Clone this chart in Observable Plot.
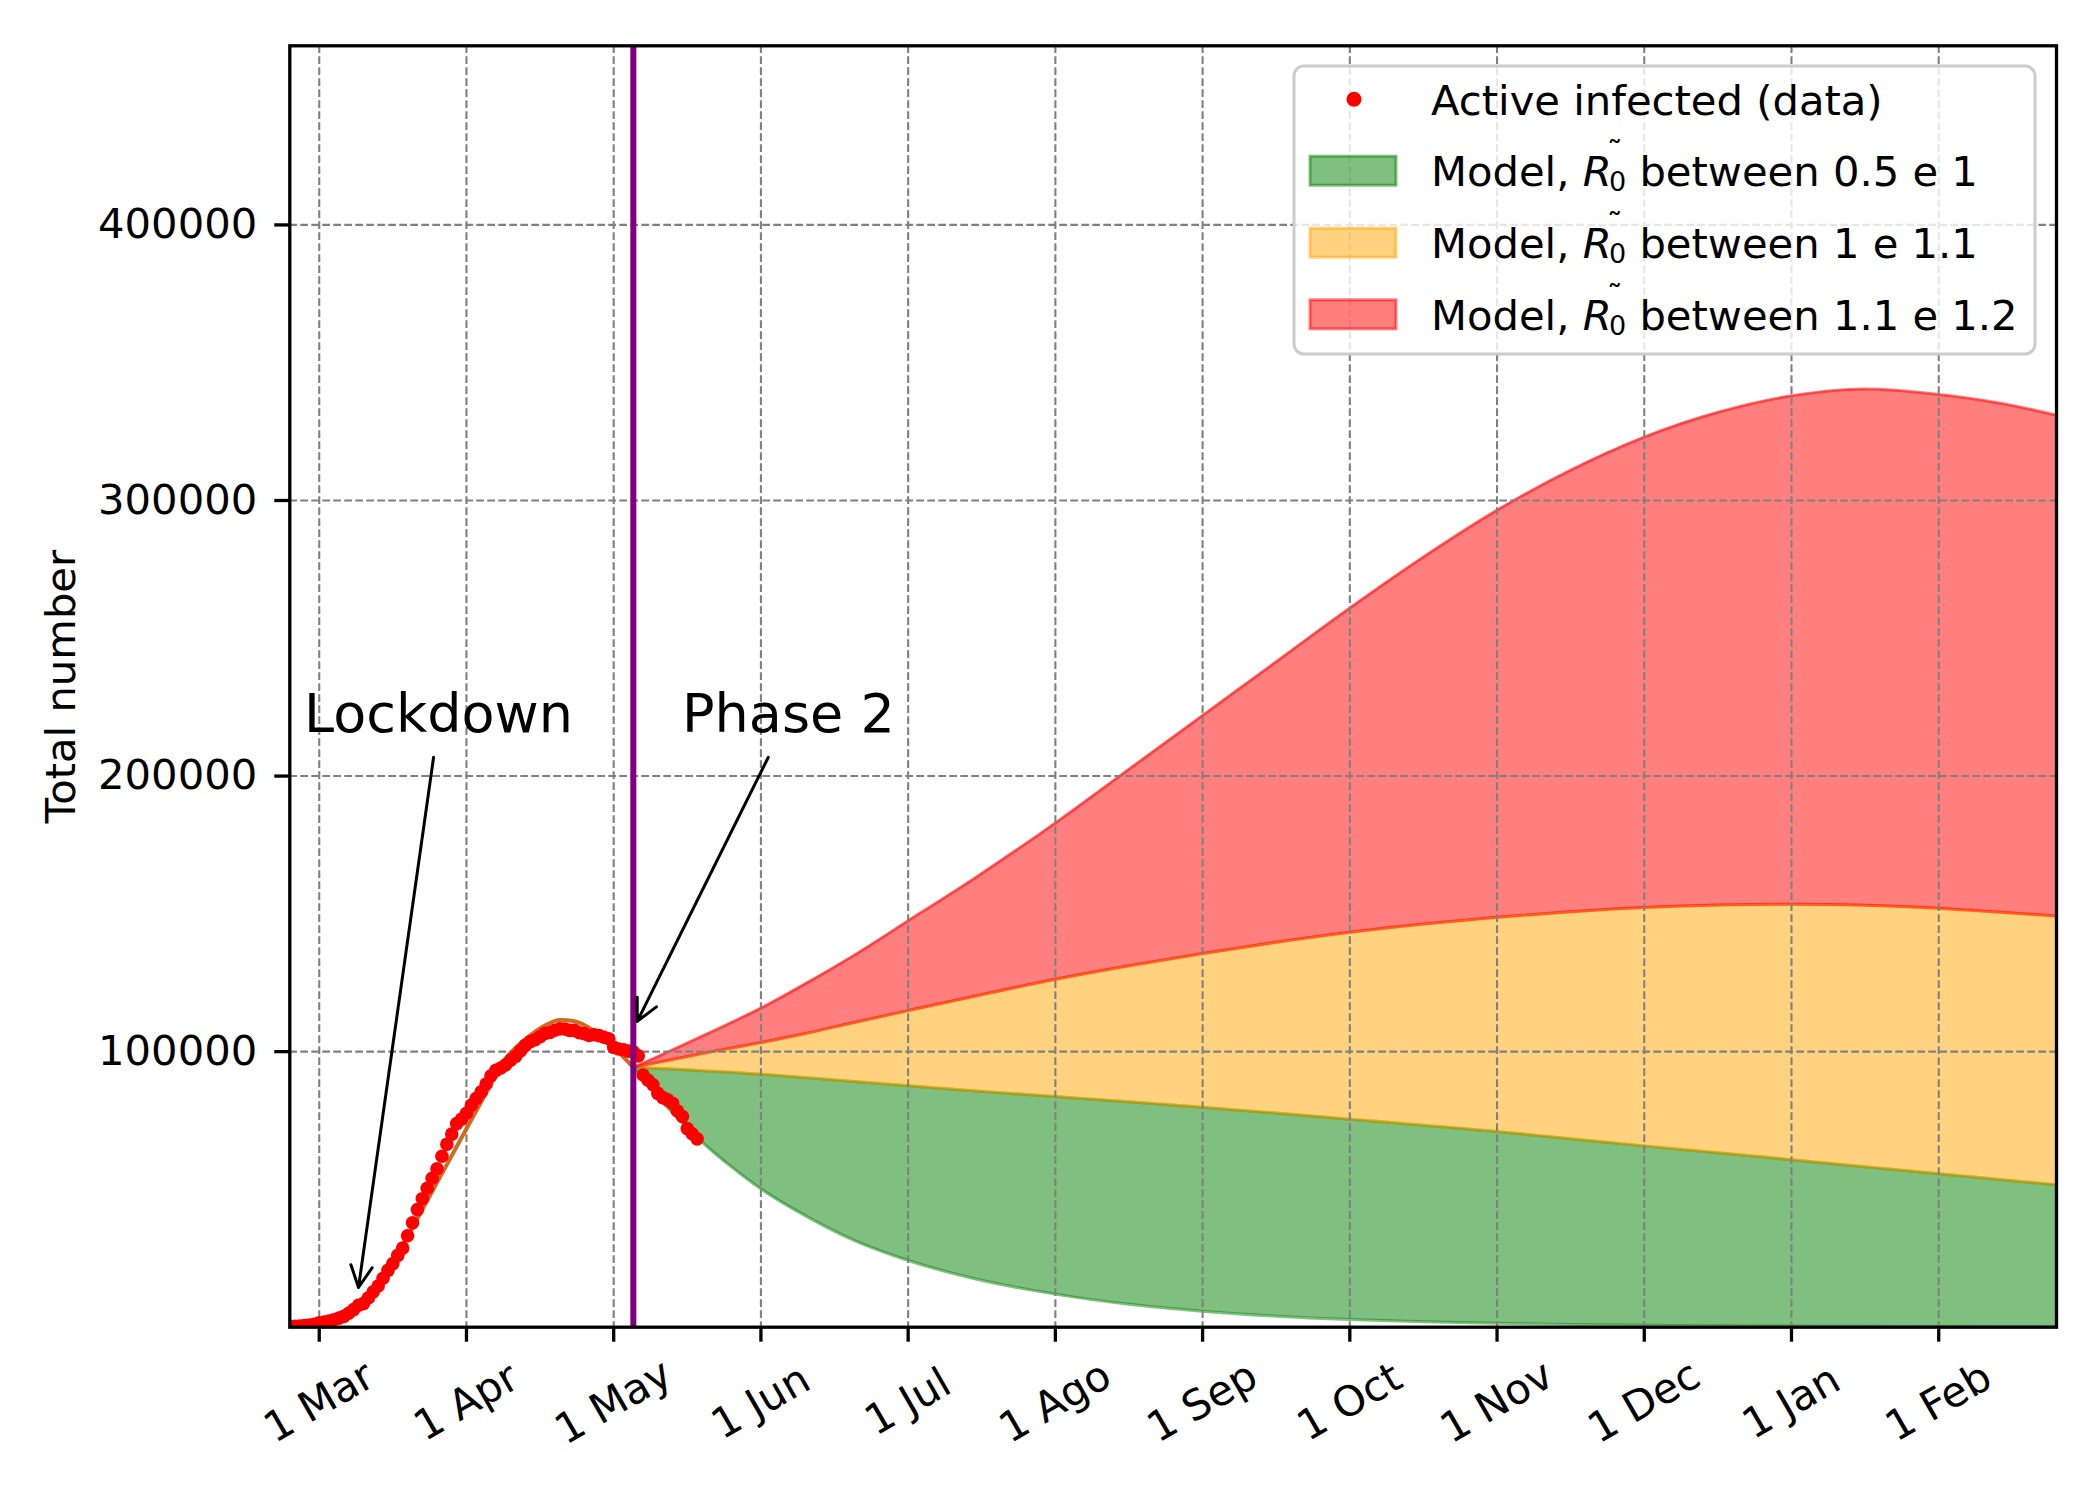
<!DOCTYPE html>
<html><head><meta charset="utf-8">
<script src="https://cdn.jsdelivr.net/npm/d3@7"></script>
<script src="https://cdn.jsdelivr.net/npm/@observablehq/plot@0.6"></script>
<style>
html,body{margin:0;padding:0;background:#fff;}
#wrap{position:relative;width:2100px;height:1500px;font-family:"DejaVu Sans",sans-serif;}
#legend{position:absolute;left:0;top:0;pointer-events:none;}
</style></head><body><div id="wrap"></div>
<script>
// ---- data (x = days since 24 Feb 2020) ----
const activeStartDay = 0;
const activeInfected = [221,311,385,588,821,1049,1577,1835,2263,2706,
 3296,3916,5061,6387,7985,8514,10590,12839,14955,17750,
 20603,23073,26062,28710,33190,37860,42681,46638,50418,54030,
 57521,62013,66414,70065,73880,75528,77635,80572,83049,85388,
 88274,91246,93187,94067,95262,96877,98273,100269,102253,103616,
 104291,105418,106607,106962,107771,108257,108237,107709,107699,106848,
 106527,105847,106103,105813,105205,104657,101551,100943,100704,100179,
 99980,98467,91528,89624,87961,84842,83324,82488,81266,78457,
 76440,72070,70187,68351];

const fitDays   = [0,4,8,12,16,20,24,28,32,36,40,44,48,52,55,58,62,66,70];
const fitValues = [300,1200,3000,6500,12500,21000,33000,46000,59000,72000,85000,97500,104500,109500,111500,111000,107500,101500,94300];

const bandDays = [70,75,80,84,90,96,105,115,126,140,156,171,186,201,216,231,246,261,276,291,306,321,336,348,360];
const r05 = [94300,83500,74000,67200,58200,50200,40500,31500,24200,17400,12000,8300,5800,4000,2800,2000,1400,1000,700,500,400,300,250,200,150];
const r10 = [94300,93900,93500,93100,92500,91800,90600,89200,87600,85700,83700,81800,79800,77700,75500,73300,71000,68400,65800,63300,60800,58200,55700,53700,51700];
const r11 = [94300,96100,97900,99300,101300,103300,106600,110600,114900,120300,126300,131200,135600,139700,143300,146300,148800,150800,152300,153200,153500,153100,152000,150700,149200];
const r12 = [94300,98200,102300,105600,110600,115800,124600,135000,147500,163500,183000,202500,222000,241500,261000,279500,296500,311000,323000,332000,338000,340500,338500,335500,331000];

const phase2Day = 70;
const tickDays = [6,36,66,96,126,156,186,216,246,276,306,336];
const tickLabels = ["1 Mar","1 Apr","1 May","1 Jun","1 Jul","1 Ago","1 Sep","1 Oct","1 Nov","1 Dec","1 Jan","1 Feb"];
const yTicks = [100000,200000,300000,400000];

const notes = [
  {label:"Lockdown", tx:30.3, ty:216000, x1:29.3, y1:206800, x2:14.0, y2:14400},
  {label:"Phase 2",  tx:101.6, ty:216000, x1:97.5, y1:206800, x2:70.8, y2:111000}
];

const legendItems = [
  {kind:"dot", color:"red", text:"Active infected (data)"},
  {kind:"patch", color:"green", range:"0.5 e 1"},
  {kind:"patch", color:"orange", range:"1 e 1.1"},
  {kind:"patch", color:"red", range:"1.1 e 1.2"}
];

// ---- tables ----
const table = bandDays.map((d,i)=>({day:d, r05:r05[i], r10:r10[i], r11:r11[i], r12:r12[i]}));
const fit = fitDays.map((d,i)=>({day:d, v:fitValues[i]}));
const bands = [
  {lo:"r05", hi:"r10", color:"green"},
  {lo:"r10", hi:"r11", color:"orange"},
  {lo:"r11", hi:"r12", color:"red"}
];

const FS = 41.7;
const gridStyle = {stroke:"#808080", strokeOpacity:1, strokeWidth:2.1, strokeDasharray:"7.7,3.3"};

const chart = Plot.plot({
  width:2100, height:1500,
  marginLeft:289.3, marginRight:44, marginTop:45.3, marginBottom:173.3,
  style:{fontFamily:'"DejaVu Sans", sans-serif', fontSize:FS+"px", background:"white", color:"black"},
  x:{type:"linear", domain:[0,360], label:null},
  y:{type:"linear", domain:[0,465000], label:null},
  marks:[
    ...bands.flatMap(b=>[
      Plot.areaY(table,{x:"day", y1:b.lo, y2:b.hi, fill:b.color, fillOpacity:0.5, curve:"monotone-x", clip:true}),
      Plot.line(table,{x:"day", y:b.lo, stroke:b.color, strokeOpacity:0.5, strokeWidth:3, curve:"monotone-x", clip:true}),
      Plot.line(table,{x:"day", y:b.hi, stroke:b.color, strokeOpacity:0.5, strokeWidth:3, curve:"monotone-x", clip:true})
    ]),
    Plot.gridX(tickDays, gridStyle),
    Plot.gridY(yTicks, gridStyle),
    Plot.line(fit,{x:"day", y:"v", stroke:"#d2691e", strokeWidth:4, curve:"monotone-x", clip:true}),
    Plot.dot(activeInfected,{x:(d,i)=>i+activeStartDay, y:d=>d, r:6.8, fill:"red", stroke:"none", clip:true}),
    Plot.ruleX([phase2Day],{stroke:"purple", strokeWidth:6}),
    Plot.arrow(notes,{x1:"x1", y1:"y1", x2:"x2", y2:"y2", stroke:"black", strokeWidth:3, headLength:12, headAngle:53}),
    Plot.text(notes,{x:"tx", y:"ty", text:"label", fontSize:54, lineAnchor:"bottom", textAnchor:"middle", fill:"black"}),
    Plot.axisX(tickDays,{tickFormat:d=>tickLabels[tickDays.indexOf(d)], tickRotate:-30, textAnchor:"middle", lineAnchor:"middle", tickSize:15, tickPadding:60, fontSize:FS, strokeWidth:3.3, label:null}),
    Plot.axisY(yTicks,{tickFormat:d=>String(d), tickSize:15, tickPadding:17.6, fontSize:FS, strokeWidth:3.3, label:null}),
    Plot.text(["Total number"],{frameAnchor:"left", rotate:-90, dx:-214.3, lineAnchor:"bottom", textAnchor:"middle", fontSize:FS, fill:"black"}),
    Plot.frame({stroke:"black", strokeWidth:3.3})
  ]
});
const wrap = document.getElementById("wrap");
wrap.appendChild(chart);

// ---- legend overlay ----
const ns = "http://www.w3.org/2000/svg";
const lg = document.createElementNS(ns,"svg");
lg.setAttribute("id","legend");
lg.setAttribute("width",2100); lg.setAttribute("height",1500);
const box = {x:1294, y:66, w:741, h:288};
const rowY = [99.3,170.7,242.7,314.3];
let html = `<rect x="${box.x}" y="${box.y}" width="${box.w}" height="${box.h}" rx="10" ry="10" fill="white" fill-opacity="0.8" stroke="#cccccc" stroke-width="3"/>`;
legendItems.forEach((it,i)=>{
  const cy = rowY[i], base = cy + 15.2;
  if (it.kind==="dot") {
    html += `<circle cx="1354" cy="${cy}" r="7.5" fill="${it.color}"/>`;
    html += `<text x="1431" y="${base}" font-family="DejaVu Sans" font-size="${FS}" fill="black">${it.text}</text>`;
  } else {
    html += `<rect x="1310" y="${cy-14.5}" width="86" height="29" fill="${it.color}" fill-opacity="0.5" stroke="${it.color}" stroke-opacity="0.5" stroke-width="3"/>`;
    html += `<text x="1431" y="${base}" font-family="DejaVu Sans" font-size="${FS}" fill="black" xml:space="preserve">Model, <tspan font-style="italic">R</tspan><tspan font-size="32" dx="-5" dy="-22">˜</tspan><tspan font-size="27" dx="-13.7" dy="27">0</tspan><tspan dy="-5"> between ${it.range}</tspan></text>`;
  }
});
lg.innerHTML = html;
wrap.appendChild(lg);
</script></body></html>
